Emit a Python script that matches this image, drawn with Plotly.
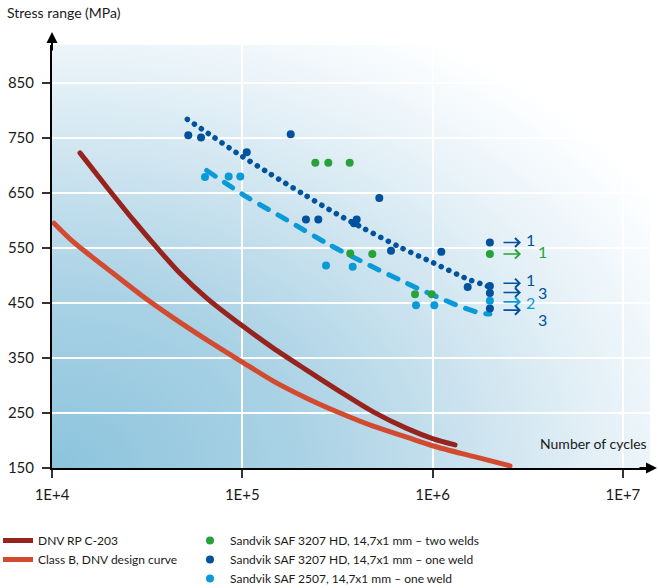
import base64
import math
import plotly.graph_objects as go

# ---------------- data ----------------
dnv_rp_cycles = [14030, 19390, 26740, 35490, 47060, 65010, 100500, 145500, 217900, 326100,
                 487700, 730800, 1009000, 1312000]
dnv_rp_stress = [723, 661, 601, 551, 504, 459, 408, 368, 328, 289, 252, 222, 203, 192]

classb_cycles = [10245, 12940, 19390, 29000, 43400, 65010, 99500, 145500, 217900, 326100,
                 487700, 730800, 1009000, 1637000, 2551000]
classb_stress = [595, 561, 513, 466, 423, 383, 343, 308, 277, 250, 226, 206, 190, 171, 154]

trend_one_weld_cycles = [51400, 69070, 93460, 139800, 209200, 313400, 432400, 660400,
                         1009000, 1540000, 1932000, 2000000]
trend_one_weld_stress = [784, 754, 723, 685, 648, 612, 586, 553, 523, 493, 481, 477]

trend_2507_cycles = [65010, 105500, 171200, 283100, 468800, 701500, 760700, 1162000,
                     1339000, 1775000, 2000000]
trend_2507_stress = [691, 643, 601, 557, 518, 489, 483, 455, 446, 432, 430]

two_welds_cycles = [241900, 283100, 366700, 369300, 482200, 808200, 989000, 2000000]
two_welds_stress = [705, 705, 705, 540, 539, 466, 466, 539]

one_weld_cycles = [52000, 60700, 105500, 179600, 216100, 250800, 399000, 386300, 524800,
                   604500, 1111000, 1529000, 2000000, 2000000, 2000000, 2000000]
one_weld_stress = [755, 751, 724, 757, 602, 602, 602, 595, 641, 545, 543, 479, 560, 481,
                   468, 440]

saf2507_cycles = [63680, 84800, 97600, 275400, 380200, 818100, 1021000, 2000000]
saf2507_stress = [679, 680, 680, 518, 516, 446, 446, 454]

# run-out arrows and their labels
arrow_stress = [560, 539, 486, 469, 452, 437]
arrow_series = ["one", "two", "one", "one", "2507", "one"]
runout_labels = ["1", "1", "1", "3", "2", "3"]
label_series = ["one", "two", "one", "one", "2507", "one"]
runout_label_cycles = [3261000, 3771000, 3261000, 3765000, 3254000, 3765000]
runout_label_stress = [566, 543, 492, 469, 451, 420]
arrow_tip_cycles = 2914000

x_tickvals = [1e4, 1e5, 1e6, 1e7]
x_ticktext = ["1E+4", "1E+5", "1E+6", "1E+7"]
y_tickvals = [150, 250, 350, 450, 550, 650, 750, 850]

# ---------------- styles ----------------
C_DNV = "#96231e"
C_CLB = "#d24a30"
C_GREEN = "#27a23a"
C_DBLUE = "#00529c"
C_CYAN = "#0a9ad8"
series_color = {"one": C_DBLUE, "two": C_GREEN, "2507": C_CYAN}
FONT = "Lato"
TXT = "#1a1a1a"

W, H = 658, 588
ML, MR, MT, MB = 52, 8, 45, 120
PW, PH = W - ML - MR, H - MT - MB

fig = go.Figure()

fig.add_trace(go.Scatter(x=dnv_rp_cycles, y=dnv_rp_stress, mode="lines",
                         line=dict(color=C_DNV, width=5, shape="spline", smoothing=0.8),
                         name="DNV RP C-203", legend="legend"))
fig.add_trace(go.Scatter(x=classb_cycles, y=classb_stress, mode="lines",
                         line=dict(color=C_CLB, width=5, shape="spline", smoothing=0.8),
                         name="Class B, DNV design curve", legend="legend"))
fig.add_trace(go.Scatter(x=trend_one_weld_cycles, y=trend_one_weld_stress, mode="lines",
                         line=dict(color=C_DBLUE, width=5.5, dash="0.1px,8.3px",
                                   shape="spline", smoothing=0.8),
                         showlegend=False, hoverinfo="skip"))
fig.add_trace(go.Scatter(x=trend_2507_cycles, y=trend_2507_stress, mode="lines",
                         line=dict(color=C_CYAN, width=5, dash="10px,11px",
                                   shape="spline", smoothing=0.8),
                         showlegend=False, hoverinfo="skip"))

fig.add_trace(go.Scatter(x=two_welds_cycles, y=two_welds_stress, mode="markers",
                         marker=dict(color=C_GREEN, size=8),
                         name="Sandvik SAF 3207 HD, 14,7x1 mm – two welds", legend="legend2"))
fig.add_trace(go.Scatter(x=one_weld_cycles, y=one_weld_stress, mode="markers",
                         marker=dict(color=C_DBLUE, size=8),
                         name="Sandvik SAF 3207 HD, 14,7x1 mm – one weld", legend="legend2"))
fig.add_trace(go.Scatter(x=saf2507_cycles, y=saf2507_stress, mode="markers",
                         marker=dict(color=C_CYAN, size=8),
                         name="Sandvik SAF 2507, 14,7x1 mm – one weld", legend="legend2"))

annotations = []
# (annotation x on a log axis is given as log10 of the value)
for s, ser in zip(arrow_stress, arrow_series):
    annotations.append(dict(x=math.log10(arrow_tip_cycles), y=s, xref="x", yref="y", text="",
                            showarrow=True, arrowhead=4, arrowsize=1.1, arrowwidth=1.6,
                            arrowcolor=series_color[ser], ax=-19, ay=0))
for lx, ly, t, ser in zip(runout_label_cycles, runout_label_stress, runout_labels, label_series):
    annotations.append(dict(x=math.log10(lx), y=ly, xref="x", yref="y", text=t,
                            showarrow=False,
                            font=dict(family=FONT, size=16, color=series_color[ser])))

# axis titles
annotations.append(dict(x=(5 - ML) / PW, y=(H - MB - 13) / PH, xref="paper", yref="paper",
                        text="Stress range (MPa)", showarrow=False, xanchor="left",
                        yanchor="middle", font=dict(family=FONT, size=14, color=TXT)))
annotations.append(dict(x=(649 - ML) / PW, y=(H - MB - 443) / PH, xref="paper", yref="paper",
                        text="Number of cycles", showarrow=False, xanchor="right",
                        yanchor="middle", font=dict(family=FONT, size=14, color=TXT)))
# axis arrows
annotations.append(dict(x=0, y=(H - MB - 32) / PH, xref="paper", yref="paper", text="",
                        showarrow=True, arrowhead=2, arrowsize=1.1, arrowwidth=2,
                        arrowcolor="#000000", ax=0, ay=20))
annotations.append(dict(x=(658 - ML) / PW, y=0, xref="paper", yref="paper", text="",
                        showarrow=True, arrowhead=2, arrowsize=1.1, arrowwidth=2,
                        arrowcolor="#000000", ax=-20, ay=0))

# background gradient as an SVG image placed below the grid
svg = ('<svg xmlns="http://www.w3.org/2000/svg" width="600" height="423" '
       'viewBox="0 0 600 423" preserveAspectRatio="none"><defs>'
       '<radialGradient id="g" cx="0" cy="1" r="1.2" fx="0" fy="1">'
       '<stop offset="0" stop-color="#8cc4dd"/>'
       '<stop offset="0.35" stop-color="#aad2e5"/>'
       '<stop offset="0.55" stop-color="#c6e0ed"/>'
       '<stop offset="0.75" stop-color="#e2eff6"/>'
       '<stop offset="0.9" stop-color="#f4f9fc"/>'
       '<stop offset="1" stop-color="#ffffff"/>'
       '</radialGradient></defs>'
       '<rect width="600" height="423" fill="url(#g)"/></svg>')
src = "data:image/svg+xml;base64," + base64.b64encode(svg.encode()).decode()

fig.update_layout(
    width=W, height=H,
    margin=dict(l=ML, r=MR, t=MT, b=MB, autoexpand=False),
    paper_bgcolor="white", plot_bgcolor="white",
    font=dict(family=FONT, size=14, color=TXT),
    images=[dict(source=src, xref="paper", yref="paper", x=0, y=1, sizex=1, sizey=1,
                 xanchor="left", yanchor="top", sizing="stretch", layer="below")],
    xaxis=dict(type="log", range=[4, 4 + PW / 190.3], tickvals=x_tickvals, ticktext=x_ticktext,
               showgrid=True, gridcolor="white", gridwidth=2, showline=True,
               linecolor="#000000", linewidth=2, ticks="outside", ticklen=8, tickwidth=1.5,
               tickcolor="#333333", zeroline=False, ticklabelstandoff=4,
               tickfont=dict(size=15, color=TXT)),
    yaxis=dict(range=[150, 150 + PH / 0.55], tickvals=y_tickvals, showgrid=True,
               gridcolor="white", gridwidth=2, showline=True, linecolor="#000000",
               linewidth=2, ticks="outside", ticklen=8, tickwidth=1.5, tickcolor="#333333",
               zeroline=False, ticklabelstandoff=5, tickfont=dict(size=15, color=TXT)),
    legend=dict(x=(-2 - ML) / PW, y=(H - MB - 526) / PH, xanchor="left", yanchor="top",
                bgcolor="rgba(0,0,0,0)", font=dict(family=FONT, size=12, color=TXT),
                tracegroupgap=0, itemwidth=30),
    legend2=dict(x=(190 - ML) / PW, y=(H - MB - 526) / PH, xanchor="left", yanchor="top",
                 bgcolor="rgba(0,0,0,0)", font=dict(family=FONT, size=12, color=TXT),
                 tracegroupgap=0, itemwidth=30),
    annotations=annotations,
    showlegend=True,
)

post = """
document.body.style.margin = '0';
document.body.style.overflow = 'hidden';
var gd = document.getElementById('{plot_id}');
function roundCaps() {
  gd.querySelectorAll('.scatterlayer .js-line').forEach(function(p) {
    p.style.strokeLinecap = 'round';
    p.style.strokeLinejoin = 'round';
  });
}
roundCaps();
if (gd.on) { gd.on('plotly_afterplot', roundCaps); }
"""

fig.write_html("out.html", post_script=post, config={"displayModeBar": False})
